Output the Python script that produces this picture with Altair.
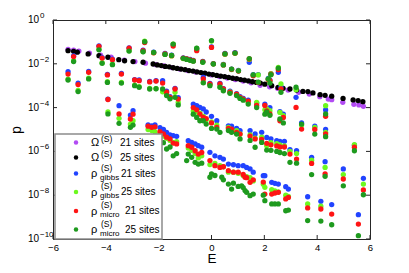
import altair as alt
import pandas as pd

FONT = "Liberation Sans"

# ---------------- data (E, log10 p) ----------------
omega21_E = [-5.43, -5.22, -5.02, -4.62, -4.20, -3.80, -3.30, -2.90, -2.50, -2.10, -1.80, -1.50,
             -1.20, -0.90, -0.60, -0.30, 0.00, 0.30, 0.60, 0.90, 1.20, 1.50, 1.84, 2.20, 2.50,
             2.90, 3.30, 3.70, 4.10, 4.42, 4.55, 4.97, 5.39, 5.58, 5.75]
omega21_log = [-1.34, -1.38, -1.42, -1.51, -1.60, -1.70, -1.83, -1.90, -1.97, -2.04, -2.10, -2.17,
               -2.24, -2.31, -2.38, -2.45, -2.51, -2.58, -2.65, -2.72, -2.79, -2.87, -2.98, -3.05, -3.12,
               -3.20, -3.30, -3.38, -3.50, -3.61, -3.64, -3.76, -3.85, -3.88, -3.94]

omega25_E = [-5.43, -5.22, -5.08, -4.67, -4.26, -3.92, -3.51, -3.29, -2.97, -2.59, -2.21, -2.05,
             -1.90, -1.75, -1.60, -1.45, -1.30, -1.15, -1.00, -0.85, -0.70, -0.55, -0.40, -0.25,
             -0.10, 0.05, 0.20, 0.35, 0.50, 0.65, 0.80, 0.95, 1.10, 1.25, 1.40, 1.55, 1.70, 1.85,
             2.02, 2.28, 2.52, 2.71, 2.97, 3.22, 3.46, 3.65, 3.84, 4.11, 4.30, 4.55, 4.98, 5.36,
             5.55, 5.73]
omega25_log = [-1.40, -1.43, -1.47, -1.55, -1.63, -1.70, -1.81, -1.86, -1.90, -1.93, -2.01, -2.05,
               -2.08, -2.12, -2.14, -2.18, -2.21, -2.24, -2.27, -2.31, -2.33, -2.37, -2.40, -2.43,
               -2.47, -2.49, -2.53, -2.56, -2.59, -2.62, -2.66, -2.68, -2.72, -2.75, -2.78, -2.82,
               -2.85, -2.88, -2.93, -3.00, -3.08, -3.12, -3.15, -3.20, -3.26, -3.27, -3.33, -3.41,
               -3.44, -3.48, -3.58, -3.65, -3.68, -3.73]

# rho clusters: energy, then log10 p for gibbs21 (blue), gibbs25 (light green),
# micro21 (red), micro25 (dark green); None = no point
rho_E = [
    -5.22, -4.26, -4.14, -3.75, -3.12, -2.53, -2.59, -2.19, -1.76, -1.51, -1.45, -1.07, -0.94,
    -0.81, -0.69, -0.56, -0.33, 0.00, 0.07, 0.45, 0.51, 0.89, 1.43, 0.76, 1.02, 1.58, 1.77,
    2.15, 2.53, 2.25, 2.21, 2.63, 3.20, 4.32,
    -5.43, -5.05, -4.65, -3.94, -3.41, -2.74, -2.91, -2.34, -2.10, -1.85, -1.70, -1.57, -1.38,
    -1.26, -0.31, -0.06, 0.32, 0.45, 0.70, 0.95, 1.08, 1.20, 1.39, 1.71, 2.09, 2.02, 2.21,
    2.59, 2.72, 3.41, 3.91, 4.32,
    -3.92, -3.50, -3.07, -2.97, -2.40, -2.26, -2.14, -1.95, -1.82, -1.70, -1.57, -1.45, -1.32,
    -0.88, -0.75, -0.94, -0.62, -0.50, -0.37, -0.69, -0.56, -0.44, -0.31, -0.20, 0.00, 0.20,
    0.32, 0.64, 0.76, 0.95, 1.08, 1.46, 1.65, 1.90,
    -0.06, 0.00, 0.13, 0.32, 0.39, 0.45, 0.64, 0.76, 0.83, 1.01, 1.14, 1.20, 1.27, 1.33, 1.46,
    1.58, 1.96, 2.02, 2.28, 2.40, 2.53, 2.81, 2.91, 3.64, 4.14, 4.55, 5.56,
    2.09, 2.25, 2.47, 2.59, 2.76, 2.97, 3.22, 3.79, 4.30, 4.99, 5.41, 5.75,
]
gibbs21_log = [
    -1.64, -1.18, -1.72, -1.79, -1.27, -1.01, -1.38, -1.47, -1.53, -1.61, -1.12, -1.73, -1.77,
    -1.80, -1.85, -1.32, -1.89, -1.23, -1.99, -2.03, -1.53, -1.49, -1.93, -2.24, -2.30, -2.50, -2.49,
    -2.67, -2.39, -2.46, -2.75, -3.05, -3.53, -4.11,
    -2.36, -2.88, -2.35, -2.48, -2.44, -2.74, -2.72, -2.80, -2.77, -2.77, -3.25, -3.50, -3.12,
    -3.55, -2.62, -2.90, -2.90, -3.13, -3.25, -3.36, -3.50, -3.58, -3.66, -3.80, -4.10, -3.84, -4.00,
    -4.18, -4.30, -4.70, -4.85, -5.00,
    -3.61, -3.91, -4.34, -4.14, -4.79, -4.83, -4.79, -4.92, -5.00, -5.13, -5.25, -5.28, -5.31,
    -5.51, -5.59, None, -5.66, -5.74, -5.81, -3.84, -3.91, -3.99, -4.06, -4.20, -4.40, -4.60,
    None, -4.83, -4.85, -4.95, -5.05, -5.05, -5.20, -5.13,
    -6.04, None, -6.20, -6.27, None, -6.35, -6.58, None, -6.61, -6.65, None, -6.65, None, -6.73, -6.80,
    -6.95, -7.11, -7.11, -7.41, -7.46, -7.49, -7.61, -7.72, -8.07, -8.28, -8.43, -8.89,
    -5.36, -5.43, -5.51, -5.54, -5.54, -5.92, -5.97, -6.27, -6.47, -6.80, -5.72, -7.23,
]
gibbs25_log = [
    -1.86, -1.33, -1.95, -2.02, -1.40, -0.97, -1.44, -1.49, -1.56, -1.64, -1.10, -1.76, -1.79,
    -1.83, -1.87, -1.30, -1.92, -0.96, -2.00, -2.04, -1.56, -1.52, -1.80, -2.26, -2.32, -2.52, -2.51,
    -2.70, -2.16, -2.45, -2.80, -2.92, -3.18, -3.91,
    -2.70, -3.22, -2.66, -2.82, -2.85, -3.04, -2.97, -3.12, -3.13, -3.28, -3.38, -3.55, -3.30,
    -3.76, -2.85, -2.95, -3.05, -3.20, -3.28, -3.40, -3.55, -3.62, -3.75, -3.76, -4.06, -4.10, -4.14,
    -4.22, -4.37, -4.80, -4.90, -5.13,
    -4.20, -4.49, -4.75, -4.60, -5.00, -5.05, -5.10, -5.20, -5.30, -5.40, -5.50, -5.60, -5.55,
    -5.85, -5.95, None, -6.10, -6.30, -6.20, -4.15, -4.20, -4.25, -4.40, -4.55, -4.65, -4.80,
    None, -4.90, -5.00, -5.05, -5.20, -5.25, -5.40, -5.35,
    -6.60, None, -6.55, -6.65, None, -6.70, -6.95, None, -6.95, -7.00, None, -7.10, None, -7.15, -7.20,
    -7.35, -7.50, -7.64, -7.75, -7.80, -7.85, -8.00, -8.05, -8.40, -8.50, None, None,
    -5.74, -5.60, -5.65, -5.70, -5.75, -6.00, -6.10, -6.40, -6.73, -7.06, -5.69, -7.49,
]
micro21_log = [
    -1.67, -1.20, -1.74, -1.81, -1.29, -1.03, -1.40, -1.50, -1.55, -1.63, -1.19, -1.74, -1.78,
    -1.82, -1.86, -1.40, -1.90, -1.25, -2.00, -2.05, -1.55, -1.51, -1.78, -2.25, -2.33, -2.55, -2.85,
    -2.72, -2.27, -2.47, -2.77, -3.15, -3.99, -4.40,
    -2.47, -2.95, -2.39, -2.51, -2.47, -2.77, -2.74, -2.83, -2.79, -2.88, -3.30, -3.53, -3.15,
    -3.61, -2.69, -2.92, -2.92, -3.15, -3.30, -3.38, -3.53, -3.61, -3.70, -3.90, -4.15, -3.90, -4.29,
    -4.60, -4.45, -4.98, -5.00, -5.20,
    -3.63, -4.29, -4.52, -4.30, -4.85, -4.90, -4.88, -5.10, -5.20, -5.35, -5.43, -5.62, -5.66,
    -5.74, -5.81, None, -5.97, -6.12, -6.05, -4.00, -4.10, -4.30, -4.45, -4.50, -4.70, -4.90,
    None, -4.95, -4.98, -5.13, -5.21, -5.30, -5.43, -5.45,
    -6.42, None, -6.65, -6.73, None, -6.70, -6.88, None, -6.95, -6.95, None, -7.05, -7.18, -7.20, -7.41,
    -7.30, -7.40, -7.95, -7.95, -7.90, -7.87, -8.17, -8.10, -8.58, -8.63, -8.86, -9.32,
    -5.63, -5.70, -5.75, -5.80, -5.80, -6.12, -6.35, -6.55, -7.03, -7.26, -5.81, -7.76,
]
micro25_log = [
    -1.90, -1.36, -1.98, -2.04, -1.42, -0.99, -1.45, -1.48, -1.57, -1.62, -1.10, -1.75, -1.80,
    -1.84, -1.88, -1.29, -1.93, -0.94, -2.01, -2.05, -1.55, -1.51, -1.76, -2.24, -2.32, -2.51, -2.84,
    -2.69, -2.20, -2.50, -2.88, -3.30, -3.07, -4.29,
    -2.74, -3.27, -2.69, -2.85, -2.88, -3.07, -3.00, -3.15, -3.14, -3.15, -3.45, -3.60, -3.53,
    -3.88, -2.87, -3.00, -3.07, -3.23, -3.35, -3.45, -3.58, -3.66, -3.84, -4.00, -4.20, -4.30, -4.35,
    -4.52, -4.70, -4.75, -5.21, -5.33,
    -4.29, -4.72, -4.90, -4.80, None, None, None, None, -5.60, -5.89, -5.80, -6.20, -6.10,
    -6.12, -6.27, -6.42, -6.50, -6.58, -6.54, -4.30, -4.45, -4.60, -4.60, -4.75, -4.95, -4.98,
    -5.13, -5.05, -5.13, -5.21, -5.43, -5.50, -5.81, -5.59,
    -7.18, -7.03, -7.10, None, -7.18, -7.30, -7.49, -7.72, -7.45, -7.60, -7.57, -7.65, -7.79, -7.87, -8.02,
    -7.95, -8.00, -8.25, -8.40, -8.40, -8.40, -8.71, -8.68, -9.16, -9.18, -9.35, -9.85,
    -5.94, -5.95, -6.00, -6.05, -6.10, -6.50, -6.54, -7.06, -7.14, -7.57, -5.97, -7.98,
]

series_names = ["Omega 21", "Omega 25", "gibbs 21", "gibbs 25", "micro 21", "micro 25"]
series_colors = ["#b24bf3", "#000000", "#2143ff", "#6cf91e", "#ff1414", "#1e9a1e"]

x_ticks = [-6, -4, -2, 0, 2, 4, 6]
y_tick_exps = [0, -2, -4, -6, -8, -10]

# ---------------- build table ----------------
rows = []
for E, lg in zip(omega21_E, omega21_log):
    rows.append({"E": E, "p": 10 ** lg, "series": series_names[0]})
for E, lg in zip(omega25_E, omega25_log):
    rows.append({"E": E, "p": 10 ** lg, "series": series_names[1]})
for name, vals in zip(series_names[2:], [gibbs21_log, gibbs25_log, micro21_log, micro25_log]):
    for E, lg in zip(rho_E, vals):
        if lg is not None:
            rows.append({"E": E, "p": 10 ** lg, "series": name})
df = pd.DataFrame(rows)

W, H = 317, 219
xscale = alt.Scale(domain=[-6, 6], nice=False, zero=False)
yscale = alt.Scale(type="log", domain=[1e-10, 1], nice=False)

points = alt.Chart(df).mark_circle(size=28, opacity=1).encode(
    x=alt.X("E:Q", scale=xscale,
            axis=alt.Axis(values=x_ticks, ticks=False, tickSize=0, domain=False, grid=False,
                          labelFlush=False, labelPadding=3, labelFontSize=9.5, labelFont=FONT,
                          labelColor="#000",
                          title="E", titleFont=FONT, titleFontSize=13.5, titleFontWeight="normal",
                          titleBaseline="alphabetic", titleY=23.5, titleColor="#000")),
    y=alt.Y("p:Q", scale=yscale,
            axis=alt.Axis(labels=False, ticks=False, tickSize=0, domain=False, grid=False,
                          title="p", titleFont=FONT, titleFontSize=14, titleFontWeight="normal",
                          titlePadding=30, titleColor="#000")),
    color=alt.Color("series:N", scale=alt.Scale(domain=series_names, range=series_colors), legend=None),
)

xt = pd.DataFrame({"E": x_ticks})
yt = pd.DataFrame({"p": [10.0 ** e for e in y_tick_exps],
                   "ex": ["0" if e == 0 else "\u2212" + str(-e) for e in y_tick_exps]})
tc = "#262626"
tick_layers = [
    alt.Chart(xt).mark_rule(color=tc).encode(x="E:Q", y=alt.value(H), y2=alt.value(H - 4)),
    alt.Chart(xt).mark_rule(color=tc).encode(x="E:Q", y=alt.value(0), y2=alt.value(4)),
    alt.Chart(yt).mark_rule(color=tc).encode(y="p:Q", x=alt.value(0), x2=alt.value(4)),
    alt.Chart(yt).mark_rule(color=tc).encode(y="p:Q", x=alt.value(W), x2=alt.value(W - 4)),
]
ylab = [
    alt.Chart(yt).mark_text(align="right", baseline="middle", fontSize=10, font=FONT, color="#000").encode(
        y="p:Q", x=alt.value(-14), text=alt.value("10")),
    alt.Chart(yt).mark_text(align="left", baseline="middle", fontSize=8, font=FONT, color="#000", dy=-4).encode(
        y="p:Q", x=alt.value(-13), text="ex:N"),
]

# ---------------- legend ----------------
dummy = pd.DataFrame({"k": [0]})
leg = [alt.Chart(dummy).mark_rect(fill="white", stroke="#8c8c8c", strokeWidth=1.5).encode(
    x=alt.value(2), x2=alt.value(109), y=alt.value(114), y2=alt.value(219))]
row_y = [122.5, 137.5, 153.5, 172, 191, 209.5]
mains = ["\u03a9", "\u03a9", "\u03c1", "\u03c1", "\u03c1", "\u03c1"]
subs = [None, None, "gibbs", "gibbs", "micro", "micro"]
counts = ["21 sites", "25 sites", "21 sites", "25 sites", "21 sites", "25 sites"]
count_x = [67, 67, 68, 68, 72, 72]
for i in range(6):
    yv = row_y[i]
    leg.append(alt.Chart(dummy).mark_circle(size=20, opacity=1, color=series_colors[i]).encode(
        x=alt.value(23), y=alt.value(yv)))
    leg.append(alt.Chart(dummy).mark_text(align="left", baseline="middle", fontSize=11, font=FONT, color="#000").encode(
        x=alt.value(38), y=alt.value(yv + 0.5), text=alt.value(mains[i])))
    sup_dy = -4 if subs[i] is None else -6
    leg.append(alt.Chart(dummy).mark_text(align="left", baseline="middle", fontSize=8.5, font=FONT, color="#000").encode(
        x=alt.value(48), y=alt.value(yv + sup_dy), text=alt.value("(S)")))
    if subs[i] is not None:
        leg.append(alt.Chart(dummy).mark_text(align="left", baseline="middle", fontSize=8, font=FONT, color="#000").encode(
            x=alt.value(47), y=alt.value(yv + 4), text=alt.value(subs[i])))
    leg.append(alt.Chart(dummy).mark_text(align="left", baseline="middle", fontSize=10, font=FONT, color="#000").encode(
        x=alt.value(count_x[i]), y=alt.value(yv), text=alt.value(counts[i])))

chart = alt.layer(points, *tick_layers, *ylab, *leg).properties(
    width=W, height=H,
    autosize=alt.AutoSizeParams(type="none"),
    padding={"left": 45, "top": 12, "right": 31, "bottom": 26},
).configure_view(stroke=tc, strokeWidth=1)

chart.save("out.html", embed_options={"renderer": "svg", "actions": False})
